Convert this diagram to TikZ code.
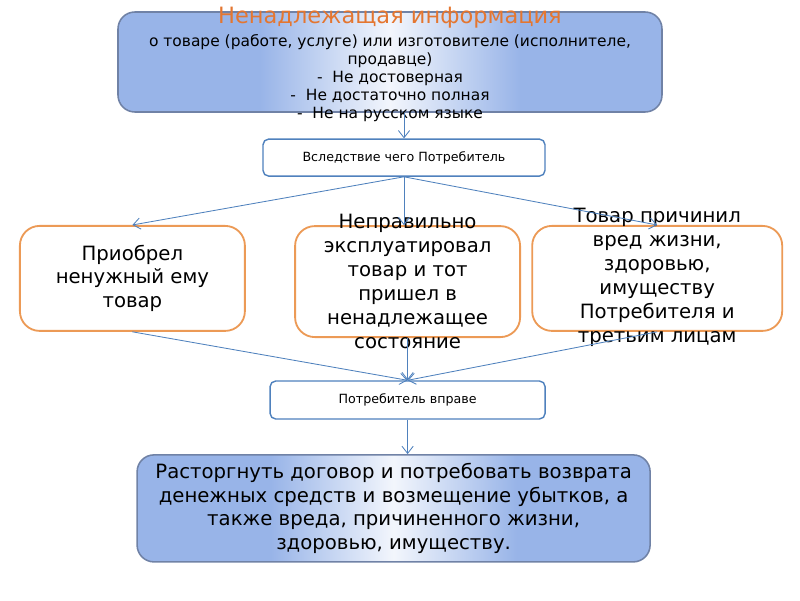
\documentclass[tikz,border=0pt]{standalone}
\usepackage{fontspec}
\setmainfont{DejaVu Sans}
\usepackage{tikz}
\usetikzlibrary{arrows.meta,positioning}
\definecolor{steelblue}{RGB}{79,129,189}
\definecolor{paleblue}{RGB}{152,180,232}
\definecolor{frameblue}{RGB}{112,130,166}
\definecolor{orange2}{RGB}{236,154,86}
\definecolor{titleorange}{RGB}{228,118,48}
\pgfdeclarehorizontalshading{glossblue}{100bp}{color(0bp)=(paleblue); color(38bp)=(paleblue);
  color(50bp)=(white!88!paleblue); color(62bp)=(paleblue); color(100bp)=(paleblue)}
\tikzset{
  mainbox/.style={draw=frameblue, line width=1.1pt, rounded corners=12pt, shading=glossblue},
  stepbox/.style={draw=steelblue, line width=1pt, rounded corners=4pt, fill=white,
    align=center, font=\fontsize{9}{11}\selectfont},
  casebox/.style={draw=orange2, line width=1.3pt, rounded corners=14pt, fill=white},
  casetext/.style={align=center, font=\fontsize{14}{17}\selectfont},
  flow/.style={-{Straight Barb[length=1.8mm,width=2.8mm]}, draw=steelblue, line width=0.6pt}
}

\begin{document}
\begin{tikzpicture}
\useasboundingbox (0,0) rectangle (20,15);

\node[mainbox, minimum width=13.6cm, minimum height=2.5cm] (info) at (9.75,13.45) {};
\node[text=titleorange, font=\fontsize{16}{18}\selectfont] (infotitle) at (9.75,14.55)
{Ненадлежащая информация};
\node[align=center, font=\fontsize{11}{12.8}\selectfont] (infotext) at (9.75,13.05)
{о товаре (работе, услуге) или изготовителе (исполнителе,\\продавце)\\
-\ \ Не достоверная\\-\ \ Не достаточно полная\\-\ \ Не на русском языке};

\node[stepbox, minimum width=7.05cm, minimum height=0.925cm] (consequence) at (10.1,11.06)
{Вследствие чего Потребитель};

\node[casebox, minimum width=5.625cm, minimum height=2.625cm] (purchase) at (3.31,8.04) {};
\node[casebox, minimum width=5.625cm, minimum height=2.775cm] (misuse) at (10.19,7.96) {};
\node[casebox, minimum width=6.25cm, minimum height=2.625cm] (harm) at (16.43,8.04) {};
\node[casetext] (purchasetext) at (purchase.center) {Приобрел\\ненужный ему\\товар};
\node[casetext] (misusetext) at (misuse.center)
{Неправильно\\эксплуатировал\\товар и тот\\пришел в\\ненадлежащее\\состояние};
\node[casetext] (harmtext) at ([yshift=0.02cm]harm.center)
{Товар причинил\\вред жизни,\\здоровью,\\имуществу\\Потребителя и\\третьим лицам};

\node[stepbox, minimum width=6.875cm, minimum height=0.95cm] (entitled) at (10.19,5.0)
{Потребитель вправе};

\node[mainbox, minimum width=12.825cm, minimum height=2.675cm, align=center,
  font=\fontsize{14}{16.8}\selectfont] (remedy) at (9.84,2.29)
{Расторгнуть договор и потребовать возврата\\денежных средств и возмещение убытков, а\\
также вреда, причиненного жизни,\\здоровью, имуществу.};

\draw[flow] (info.south -| consequence.north) -- (consequence.north);
\draw[flow] (consequence.south) -- (purchase.north);
\draw[flow] (consequence.south) -- (consequence.south |- misuse.north);
\draw[flow] (consequence.south) -- (harm.north);
\draw[flow] (purchase.south) -- (entitled.north);
\draw[flow] (misuse.south) -- (entitled.north);
\draw[flow] (harm.south) -- (entitled.north);
\draw[flow] (entitled.south) -- (entitled.south |- remedy.north);
\end{tikzpicture}
\end{document}
